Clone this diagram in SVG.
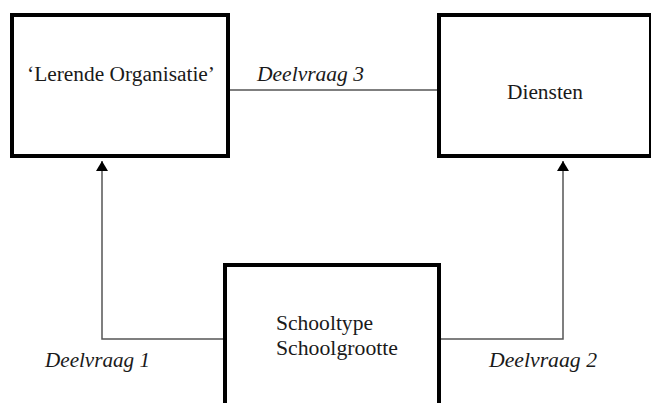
<svg xmlns="http://www.w3.org/2000/svg" width="651" height="403" viewBox="0 0 651 403">
<defs>
<style>
.box{fill:#fff;stroke:#000;stroke-width:4}
.conn{fill:none;stroke:#555;stroke-width:1.5}
text{font-family:"Liberation Serif","Times New Roman",serif;font-size:20px;fill:#1a1a1a}
.it{font-style:italic}
</style>
<marker id="ah" viewBox="0 0 10 12" refX="10" refY="6" markerWidth="10" markerHeight="12" markerUnits="userSpaceOnUse" orient="auto">
<path d="M0,0 L10,6 L0,12 z" fill="#000"/>
</marker>
</defs>
<rect width="651" height="403" fill="#fff"/>
<g id="connectors">
<line class="conn" x1="228" y1="90" x2="439" y2="90"/>
<text class="it" x="257" y="81" textLength="107" lengthAdjust="spacingAndGlyphs">Deelvraag 3</text>
<polyline class="conn" points="225,339 102,339 102,161" marker-end="url(#ah)"/>
<text class="it" x="45" y="367" textLength="105" lengthAdjust="spacingAndGlyphs">Deelvraag 1</text>
<polyline class="conn" points="439,339 563,339 563,161" marker-end="url(#ah)"/>
<text class="it" x="489" y="367" textLength="108" lengthAdjust="spacingAndGlyphs">Deelvraag 2</text>
</g>
<g id="lerende">
<rect class="box" x="12" y="15" width="216" height="141"/>
<text x="27" y="81" textLength="188" lengthAdjust="spacingAndGlyphs">‘Lerende Organisatie’</text>
</g>
<g id="diensten">
<rect class="box" x="439" y="15" width="212" height="141"/>
<text x="507" y="99" textLength="76" lengthAdjust="spacingAndGlyphs">Diensten</text>
</g>
<g id="school">
<rect class="box" x="225" y="265" width="214" height="160"/>
<text x="276" y="330" textLength="97" lengthAdjust="spacingAndGlyphs">Schooltype</text>
<text x="276" y="355" textLength="122" lengthAdjust="spacingAndGlyphs">Schoolgrootte</text>
</g>
</svg>
